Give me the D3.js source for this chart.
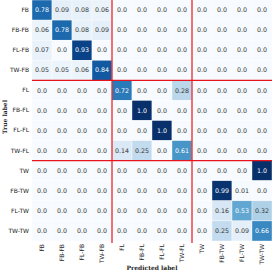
<!DOCTYPE html>
<meta charset="utf-8">
<style>
body { margin: 0; background: #fff; }
svg { display: block; }
.tick text { font-family: "DejaVu Sans", sans-serif; fill: #222; }
.cell-text { font-family: "DejaVu Sans", sans-serif; }
.axis-title { font-family: "DejaVu Serif", serif; font-weight: bold; fill: #222; }
</style>
<svg width="274" height="274"></svg>
<script src="https://d3js.org/d3.v7.min.js"></script>
<script>

var labels = ["FB", "FB-FB", "FL-FB", "TW-FB", "FL", "FB-FL", "FL-FL", "TW-FL", "TW", "FB-TW", "FL-TW", "TW-TW"];

var matrix = [
  [0.78, 0.09, 0.08, 0.06, 0.0, 0.0, 0.0, 0.0, 0.0, 0.0, 0.0, 0.0],
  [0.06, 0.78, 0.08, 0.09, 0.0, 0.0, 0.0, 0.0, 0.0, 0.0, 0.0, 0.0],
  [0.07, 0.0, 0.93, 0.0, 0.0, 0.0, 0.0, 0.0, 0.0, 0.0, 0.0, 0.0],
  [0.05, 0.05, 0.06, 0.84, 0.0, 0.0, 0.0, 0.0, 0.0, 0.0, 0.0, 0.0],
  [0.0, 0.0, 0.0, 0.0, 0.72, 0.0, 0.0, 0.28, 0.0, 0.0, 0.0, 0.0],
  [0.0, 0.0, 0.0, 0.0, 0.0, 1.0, 0.0, 0.0, 0.0, 0.0, 0.0, 0.0],
  [0.0, 0.0, 0.0, 0.0, 0.0, 0.0, 1.0, 0.0, 0.0, 0.0, 0.0, 0.0],
  [0.0, 0.0, 0.0, 0.0, 0.14, 0.25, 0.0, 0.61, 0.0, 0.0, 0.0, 0.0],
  [0.0, 0.0, 0.0, 0.0, 0.0, 0.0, 0.0, 0.0, 0.0, 0.0, 0.0, 1.0],
  [0.0, 0.0, 0.0, 0.0, 0.0, 0.0, 0.0, 0.0, 0.0, 0.99, 0.01, 0.0],
  [0.0, 0.0, 0.0, 0.0, 0.0, 0.0, 0.0, 0.0, 0.0, 0.16, 0.53, 0.32],
  [0.0, 0.0, 0.0, 0.0, 0.0, 0.0, 0.0, 0.0, 0.0, 0.25, 0.09, 0.66]
];

// block boundaries (group of 4 classes each)
var groupBreaks = ["FL", "TW"];

var svg = d3.select("svg");

var x = d3.scaleBand().domain(labels).range([32, 272]);
var y = d3.scaleBand().domain(labels).range([0, 241]);

var color = d3.scaleSequential(d3.interpolateBlues).domain([0, 1]);

var cells = [];
matrix.forEach(function(row, i) {
  row.forEach(function(v, j) {
    cells.push({ r: labels[i], c: labels[j], v: v });
  });
});

function fmt(v) {
  return (Math.round(v * 10) === v * 10) ? v.toFixed(1) : String(v);
}

svg.append("g").selectAll("rect")
  .data(cells)
  .enter().append("rect")
    .attr("x", function(d) { return x(d.c); })
    .attr("y", function(d) { return y(d.r); })
    .attr("width", x.bandwidth())
    .attr("height", y.bandwidth())
    .attr("fill", function(d) { return color(d.v); })
    .attr("stroke", "#fff")
    .attr("stroke-width", 0.4);

svg.append("g").selectAll("text")
  .data(cells)
  .enter().append("text")
    .attr("class", "cell-text")
    .attr("x", function(d) { return x(d.c) + x.bandwidth() / 2; })
    .attr("y", function(d) { return y(d.r) + y.bandwidth() / 2; })
    .attr("dy", "0.35em")
    .attr("text-anchor", "middle")
    .attr("font-size", 6.3)
    .attr("fill", function(d) { return d.v > 0.5 ? "#fff" : "#333"; })
    .text(function(d) { return fmt(d.v); });

// red separators
var lines = svg.append("g").attr("stroke", "#e8141c").attr("stroke-width", 1.2);
groupBreaks.forEach(function(b) {
  lines.append("line")
    .attr("x1", x(b)).attr("x2", x(b))
    .attr("y1", 0).attr("y2", 243);
  lines.append("line")
    .attr("x1", 32).attr("x2", 272)
    .attr("y1", y(b)).attr("y2", y(b));
});

// axes
var gy = svg.append("g")
    .attr("transform", "translate(32,0)")
    .call(d3.axisLeft(y).tickSize(0).tickPadding(3));
gy.select(".domain").remove();
gy.selectAll(".tick text").attr("font-size", 6);

var gx = svg.append("g")
    .attr("transform", "translate(0,241)")
    .call(d3.axisBottom(x).tickSize(0));
gx.select(".domain").remove();
gx.selectAll(".tick text")
    .attr("font-size", 6)
    .attr("transform", "rotate(-90)")
    .attr("text-anchor", "end")
    .attr("x", -3)
    .attr("y", 0)
    .attr("dy", "0.35em");

svg.append("text")
    .attr("class", "axis-title")
    .attr("x", 152)
    .attr("y", 270)
    .attr("text-anchor", "middle")
    .attr("font-size", 6)
    .text("Predicted label");

svg.append("text")
    .attr("class", "axis-title")
    .attr("transform", "translate(7,117) rotate(-90)")
    .attr("text-anchor", "middle")
    .attr("font-size", 6)
    .text("True label");

</script>
